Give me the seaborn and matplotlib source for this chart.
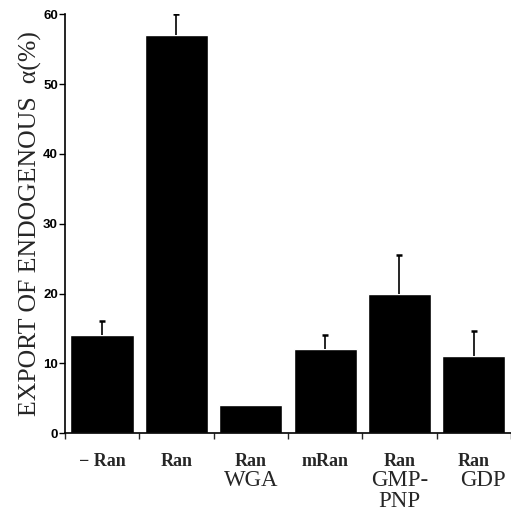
import numpy as np
import pandas as pd
import matplotlib
matplotlib.use("Agg")
import matplotlib.pyplot as plt
import seaborn as sns

# data
conditions = ["- Ran", "Ran", "Ran WGA", "mRan", "Ran GMP-PNP", "Ran GDP"]
top_labels = ["\u2212 Ran", "Ran", "Ran", "mRan", "Ran", "Ran"]
sub_labels = ["", "", "WGA", "", "GMP-\nPNP", "GDP"]
export_pct = [14.0, 57.0, 4.0, 12.0, 20.0, 11.0]
err_up = [2.0, 3.0, 0.0, 2.0, 5.5, 3.6]

sns.set_theme(style="ticks")
plt.rcParams['font.family'] = ['Liberation Serif', 'DejaVu Serif']

df = pd.DataFrame({'cond': conditions, 'pct': export_pct})
df['top'] = df['pct'] + np.array(err_up)

fig = plt.figure(figsize=(5.11, 5.27), dpi=100)
ax = fig.add_axes([0.127, 0.178, 0.873, 0.795])

sns.barplot(data=df, x='cond', y='pct', color='black', width=0.85,
            saturation=1, ax=ax, errorbar=None)
# upper error bars only
xs = np.arange(len(conditions))
ax.vlines(xs, df['pct'], df['top'], color='black', linewidth=1.2)
has_err = df['top'] > df['pct']
ax.plot(xs[has_err], df['top'][has_err], linestyle='none', marker='_',
        markersize=5, markeredgewidth=1.8, color='black')

ax.set_xlim(-0.5, 5.5)
ax.set_ylim(0, 60)
ax.set_yticks([0, 10, 20, 30, 40, 50, 60])
ax.set_yticklabels([str(v) for v in range(0, 61, 10)],
                   fontfamily='Liberation Sans', fontweight='bold', fontsize=9.5)
ax.tick_params(axis='y', direction='out', length=4, width=1, pad=1, colors='black')

# x ticks at group boundaries, labels drawn manually
ax.set_xticks(np.arange(-0.5, 6.0, 1.0))
ax.set_xticklabels([])
ax.tick_params(axis='x', direction='out', length=4, width=1)
ax.set_xlabel('')
for i, (t, s) in enumerate(zip(top_labels, sub_labels)):
    ax.text(i, -2.8, t, ha='center', va='top', fontsize=13,
            fontweight='bold', fontfamily='Liberation Serif')
    if s:
        ax.text(i + (0.12 if s == "GDP" else 0), -5.2, s, ha='center', va='top',
                fontsize=16.5, fontfamily='Liberation Serif', linespacing=1.0)

ax.set_ylabel('EXPORT OF ENDOGENOUS  \u03b1(%)', fontsize=18.5,
              fontfamily='Liberation Serif', labelpad=1)

for side in ['top', 'right']:
    ax.spines[side].set_visible(False)
for side in ['left', 'bottom']:
    ax.spines[side].set_linewidth(1.2)
    ax.spines[side].set_color('black')

fig.savefig('out.png', dpi=100)
